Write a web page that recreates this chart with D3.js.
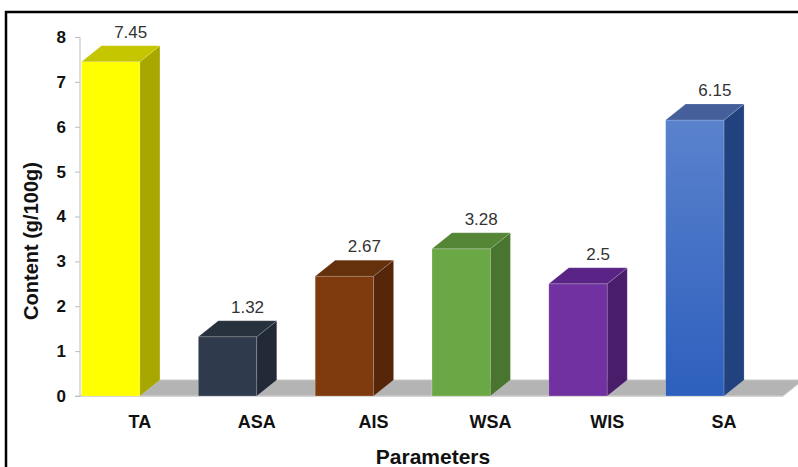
<!DOCTYPE html>
<html><head><meta charset="utf-8">
<script src="https://cdn.jsdelivr.net/npm/d3@7"></script>
<style>html,body{margin:0;padding:0;background:#fff;} svg{display:block;}</style>
</head><body>
<svg id="chart" width="798" height="467"></svg>
<script>
const categories = ["TA","ASA","AIS","WSA","WIS","SA"];
const values = [7.45, 1.32, 2.67, 3.28, 2.5, 6.15];
const valueLabels = ["7.45","1.32","2.67","3.28","2.5","6.15"];
const yTicks = [0,1,2,3,4,5,6,7,8];
const frontColors = ["#ffff00","#2f3b4c","#7f3a0d","#6aa845","#7131a1","url(#gSA)"];
const sideColors  = ["#a7a700","#212a36","#55260a","#4a752f","#4a1d6a","#22427f"];
const topColors   = ["#c5c500","#28313e","#65300c","#548636","#5a2486","#445f9a"];

const svg = d3.select("#chart");
const defs = svg.append("defs");
const g1 = defs.append("linearGradient").attr("id","gSA").attr("x1",0).attr("y1",0).attr("x2",0).attr("y2",1);
g1.append("stop").attr("offset","0%").attr("stop-color","#5a82cd");
g1.append("stop").attr("offset","100%").attr("stop-color","#2d5fbd");

const DX = 20, DY = -16;
const y = d3.scaleLinear().domain([0,8]).range([396,37]);
const x = d3.scaleBand().domain(categories).range([81.5,782.5]).padding(0);
const bw = x.bandwidth();
const barW = bw/2;
const FONT = "Liberation Sans, Arial, sans-serif";

// frame
svg.append("path").attr("d","M6,467 L6,12 L798,12").attr("fill","none").attr("stroke","#000").attr("stroke-width",2.5);

// floor
const fx0 = 80, fx1 = 783, fy = y(0);
svg.append("path")
  .attr("d",`M${fx0},${fy} L${fx1},${fy} L${fx1+DX},${fy+DY} L${fx0+DX},${fy+DY} Z`)
  .attr("fill","#b4b4b4").attr("stroke","#c8c8c8").attr("stroke-width",1);

// y axis
const yAxis = d3.axisLeft(y).tickValues(yTicks).tickSize(5).tickPadding(9).tickFormat(d3.format("d"));
const ya = svg.append("g").attr("transform","translate(80,0)").call(yAxis);
ya.select(".domain").attr("stroke","#bdbdbd").attr("d",`M0,${y(8)}V${y(0)}`);
ya.selectAll(".tick line").attr("stroke","#bdbdbd");
ya.selectAll(".tick text").attr("font-family",FONT)
  .attr("font-size",17).attr("font-weight","bold").attr("fill","#111");
// baseline line
svg.append("line").attr("x1",75).attr("x2",fx1).attr("y1",fy).attr("y2",fy).attr("stroke","#c8c8c8");

// bars
const bars = svg.selectAll("g.bar").data(categories).enter().append("g").attr("class","bar");
bars.each(function(c,i){
  const gg = d3.select(this);
  const x0 = x(c), x1 = x0 + barW, yt = y(values[i]), yb = y(0);
  gg.append("rect").attr("x",x0).attr("y",yt).attr("width",barW).attr("height",yb-yt)
    .attr("fill",frontColors[i]).attr("stroke","rgba(255,255,255,0.35)").attr("stroke-width",0.6);
  gg.append("path").attr("d",`M${x1},${yt} L${x1+DX},${yt+DY} L${x1+DX},${yb+DY} L${x1},${yb} Z`)
    .attr("fill",sideColors[i]).attr("stroke","rgba(255,255,255,0.25)").attr("stroke-width",0.6);
  gg.append("path").attr("d",`M${x0},${yt} L${x1},${yt} L${x1+DX},${yt+DY} L${x0+DX},${yt+DY} Z`)
    .attr("fill",topColors[i]).attr("stroke","rgba(255,255,255,0.25)").attr("stroke-width",0.6);
  gg.append("text").attr("x",x0+DX+barW/2).attr("y",yt+DY-8).attr("text-anchor","middle")
    .attr("font-family",FONT).attr("font-size",17).attr("fill","#333")
    .text(valueLabels[i]);
});

// category labels
svg.selectAll("text.cat").data(categories).enter().append("text").attr("class","cat")
  .attr("x",d=>x(d)+bw/2).attr("y",428).attr("text-anchor","middle")
  .attr("font-family",FONT).attr("font-size",18).attr("font-weight","bold").attr("fill","#111")
  .text(d=>d);

// axis titles
svg.append("text").attr("x",433).attr("y",464).attr("text-anchor","middle")
  .attr("font-family",FONT).attr("font-size",21).attr("font-weight","bold").attr("fill","#111")
  .text("Parameters");
svg.append("text").attr("transform","translate(38,241) rotate(-90)").attr("text-anchor","middle")
  .attr("font-family",FONT).attr("font-size",20).attr("font-weight","bold").attr("fill","#111")
  .text("Content (g/100g)");
</script>
</body></html>
